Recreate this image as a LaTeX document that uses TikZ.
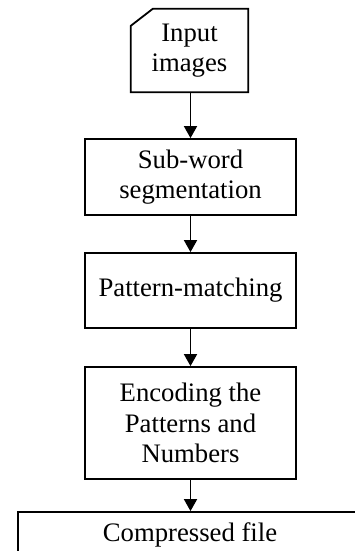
\documentclass[tikz,border=0pt]{standalone}
\usepackage{fontspec}
\setmainfont{Liberation Serif}
\usetikzlibrary{arrows.meta,calc}
\begin{document}
\begin{tikzpicture}[x=1pt,y=-1pt,
  every node/.style={font=\fontsize{26.7}{30.5}\selectfont, align=center, inner sep=0pt},
  procbox/.style={draw, line width=1.8pt, minimum width=211pt},
  flow/.style={line width=1.8pt, -{Triangle[length=12pt,width=13pt]}}]
\useasboundingbox (0,0) rectangle (355,551);
\clip (0,0) rectangle (355,551);
\node (in) [minimum width=117pt, minimum height=83pt] at (189.5,50.5) {Input\\images};
\draw[line width=1.8pt, line join=miter] (in.south west) -- (in.south east) -- (in.north east)
  -- ($(in.north west)+(22,0)$) -- ($(in.north west)+(0,17)$) -- cycle;
\node (sub) [procbox, minimum height=76pt] at (190.5,177) {Sub-word\\segmentation};
\node (pat) [procbox, minimum height=75pt] at (190.5,290.5) {Pattern-matching};
\node (enc) [procbox, minimum height=112pt] at (190.5,423) {Encoding the\\Patterns and\\Numbers};
\node (comp) [draw, line width=1.8pt, minimum width=344pt, minimum height=46pt] at (190,535) {Compressed file};
\draw[flow] (in.south -| sub.north) -- (sub.north);
\draw[flow] (sub) -- (pat);
\draw[flow] (pat) -- (enc);
\draw[flow] (enc.south) -- (enc.south |- comp.north);
\end{tikzpicture}
\end{document}
